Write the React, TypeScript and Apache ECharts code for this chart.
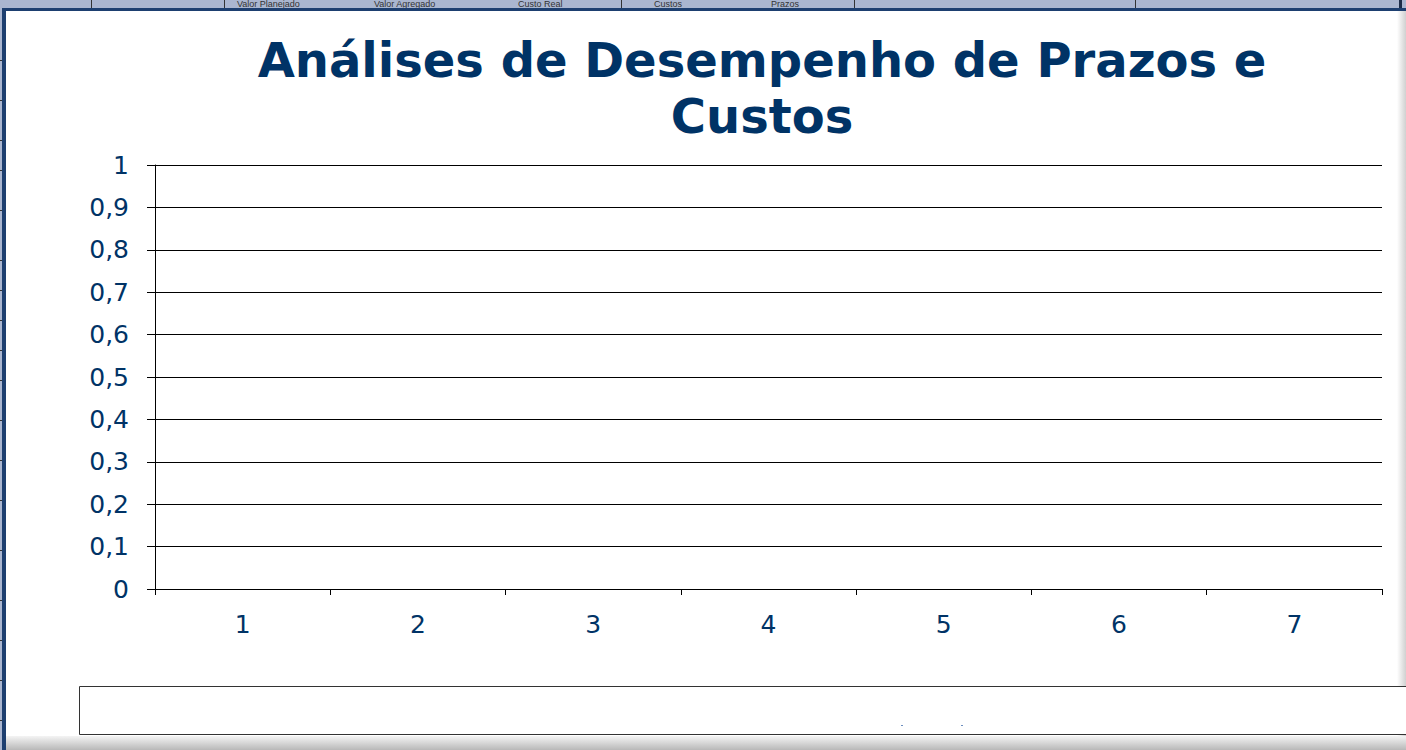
import React, { useEffect, useRef } from "react";
import * as echarts from "echarts";

const titleLines = ["Análises de Desempenho de Prazos e", "Custos"];
const categories = ["1", "2", "3", "4", "5", "6", "7"];
const plannedValue: (number | null)[] = [];
const earnedValue: (number | null)[] = [];
const actualCost: (number | null)[] = [];
const yMin = 0;
const yMax = 1;
const yStep = 0.1;
const sheetHeaders = ["Valor Planejado", "Valor Agregado", "Custo Real", "Custos", "Prazos"];
const sheetHeaderX = [237, 374, 518, 654, 771];
const sheetDividers = [91, 224, 621, 854, 1135];

const NAVY = "#003366";

export default function App() {
  const ref = useRef<HTMLDivElement>(null);
  useEffect(() => {
    if (!ref.current) return;
    const chart = echarts.init(ref.current, undefined, { renderer: "svg" });
    const graphics: any[] = [];
    // spreadsheet strip at top
    graphics.push({ type: "rect", z: 0, shape: { x: 0, y: 0, width: 1406, height: 9 }, style: { fill: "#aab6d0" } });
    sheetHeaders.forEach((t, i) => {
      graphics.push({ type: "text", z: 1, x: sheetHeaderX[i], y: 8, style: { text: t, fill: "#333", font: "9px 'Liberation Sans'", textVerticalAlign: "bottom" } });
    });
    sheetDividers.forEach((x) => {
      graphics.push({ type: "rect", z: 1, shape: { x, y: 0, width: 1, height: 9 }, style: { fill: "#333" } });
    });
    graphics.push({ type: "rect", z: 1, shape: { x: 1399, y: 0, width: 3, height: 9 }, style: { fill: "#1c2c48" } });
    // left strip
    graphics.push({ type: "rect", z: 0, shape: { x: 0, y: 0, width: 3, height: 750 }, style: { fill: "#aab6d0" } });
    [60, 100, 140, 170, 210, 260, 290, 320, 350, 380, 420, 460, 500, 550, 600, 640, 680, 720].forEach((y) => {
      graphics.push({ type: "rect", z: 1, shape: { x: 0, y, width: 2, height: 1 }, style: { fill: "#333" } });
    });
    // chart frame
    graphics.push({ type: "rect", z: 2, shape: { x: 3, y: 9, width: 1403, height: 741 }, style: { fill: "#ffffff" } });
    graphics.push({ type: "rect", z: 3, shape: { x: 2, y: 8, width: 1404, height: 3 }, style: { fill: "#1d3f70" } });
    graphics.push({ type: "rect", z: 3, shape: { x: 2, y: 8, width: 4, height: 742 }, style: { fill: "#1d3f70" } });
    // right shadow
    graphics.push({
      type: "rect", z: 3, shape: { x: 1397, y: 11, width: 9, height: 739 },
      style: { fill: new echarts.graphic.LinearGradient(0, 0, 1, 0, [{ offset: 0, color: "#ffffff" }, { offset: 1, color: "#d0d0d0" }]) },
    });
    // bottom shadow
    graphics.push({
      type: "rect", z: 3, shape: { x: 6, y: 736, width: 1400, height: 14 },
      style: { fill: new echarts.graphic.LinearGradient(0, 0, 0, 1, [{ offset: 0, color: "#f4f4f4" }, { offset: 1, color: "#b8b8b8" }]) },
    });
    // legend box
    graphics.push({ type: "rect", z: 4, shape: { x: 79.5, y: 686.5, width: 1340, height: 48 }, style: { fill: "#fff", stroke: "#333", lineWidth: 1 } });
    graphics.push({ type: "rect", z: 5, shape: { x: 901, y: 725, width: 2, height: 1 }, style: { fill: "#6d8fc0" } });
    graphics.push({ type: "rect", z: 5, shape: { x: 961, y: 725, width: 2, height: 1 }, style: { fill: "#6d8fc0" } });

    chart.setOption({
      animation: false,
      backgroundColor: "#ffffff",
      title: {
        text: titleLines.join("\n"),
        left: 757,
        top: 27,
        textAlign: "center",
        textStyle: { color: NAVY, fontFamily: "DejaVu Sans", fontWeight: "bold", fontSize: 48, lineHeight: 56 },
        z: 10,
      },
      graphic: graphics,
      grid: { left: 155, right: 24, top: 165, bottom: 161, z: 10 },
      xAxis: {
        type: "category",
        data: categories,
        boundaryGap: true,
        z: 10,
        axisLine: { lineStyle: { color: "#000", width: 1 } },
        axisTick: { show: true, length: 6, alignWithLabel: false, lineStyle: { color: "#000" } },
        axisLabel: { color: NAVY, fontFamily: "DejaVu Sans", fontSize: 25, margin: 23 },
        splitLine: { show: false },
      },
      yAxis: {
        type: "value",
        min: yMin,
        max: yMax,
        interval: yStep,
        z: 10,
        axisLine: { show: true, lineStyle: { color: "#000", width: 1 } },
        axisTick: { show: true, length: 8, lineStyle: { color: "#000" } },
        axisLabel: {
          color: NAVY,
          fontFamily: "DejaVu Sans",
          fontSize: 25,
          margin: 26,
          formatter: (v: number) => String(Math.round(v * 10) / 10).replace(".", ","),
        },
        splitLine: { show: true, lineStyle: { color: "#000", width: 1 } },
      },
      series: [
        { name: "Valor Planejado", type: "line", data: plannedValue, z: 11 },
        { name: "Valor Agregado", type: "line", data: earnedValue, z: 11 },
        { name: "Custo Real", type: "line", data: actualCost, z: 11 },
      ],
    });
    return () => chart.dispose();
  }, []);
  return <div ref={ref} style={{ position: "fixed", left: 0, top: 0, width: 1406, height: 750 }} />;
}
